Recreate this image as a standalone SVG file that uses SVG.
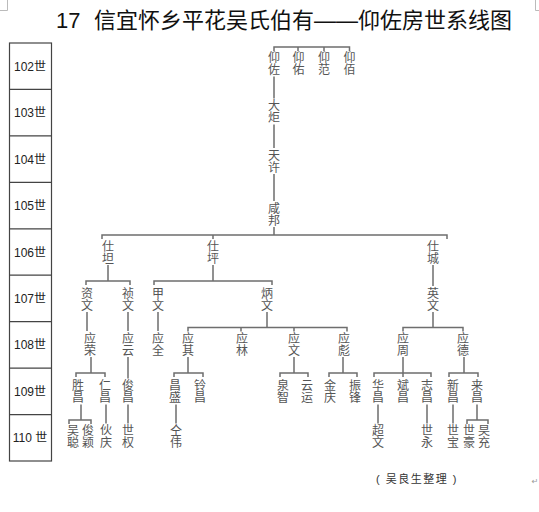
<svg xmlns="http://www.w3.org/2000/svg" width="539" height="512" viewBox="0 0 539 512">
<style>
.t{font-family:"Liberation Sans","Noto Sans CJK SC",sans-serif;font-size:22px;fill:#111}
.g{font-family:"Liberation Sans","Noto Sans CJK SC",sans-serif;font-size:12px;fill:#222;text-anchor:middle}
.n{font-family:"Noto Sans CJK SC",sans-serif;font-size:12px;fill:#555;text-anchor:middle;writing-mode:vertical-rl}
.c path{fill:none;stroke:#6e6e6e;stroke-width:1.5}
.box{fill:none;stroke:#444;stroke-width:1.2}
.mk{fill:none;stroke:#bbb;stroke-width:1}
</style>
<path class="mk" d="M0 10.5H7.5V0M535.5 0V10.5H539"/>
<text class="t" x="56" y="28" font-size="21">17</text>
<text class="t" x="94" y="28">信宜怀乡平花吴氏伯有——仰佐房世系线图</text>

<g id="gen-column">
<rect class="box" x="9.5" y="43" width="42" height="418"/>
<path class="box" d="M9.5 89.4H51.5M9.5 135.9H51.5M9.5 182.3H51.5M9.5 228.8H51.5M9.5 275.2H51.5M9.5 321.7H51.5M9.5 368.1H51.5M9.5 414.6H51.5"/>
<text class="g" x="30" y="70.7">102世</text>
<text class="g" x="30" y="117.1">103世</text>
<text class="g" x="30" y="163.6">104世</text>
<text class="g" x="30" y="210">105世</text>
<text class="g" x="30" y="256.5">106世</text>
<text class="g" x="30" y="302.9">107世</text>
<text class="g" x="30" y="349.4">108世</text>
<text class="g" x="30" y="395.8">109世</text>
<text class="g" x="30" y="442.3">110 世</text>
</g>

<g class="c" id="connectors">
<path d="M274 51V47H349.5V51M298 47V51M324 47V51"/>
<path d="M274 76.5V98.5M274 124.5V148M274 174V201M274 227V235"/>
<path d="M102 239V235H447V239M213 235V239"/>
<path d="M108 265V281M86 285V281H130V285"/>
<path d="M213 265V281M154 285V281H272V285"/>
<path d="M433 265V286"/>
<path d="M87 312V331M128 312V331M158 312V331"/>
<path d="M267 312V327.5M188 331.5V327.5H347V331.5M241 327.5V331.5M294 327.5V331.5"/>
<path d="M433 312V327.5M403 331.5V327.5H463V331.5"/>
<path d="M91 357V373M76 377V373H105V377"/>
<path d="M128 357V378.5"/>
<path d="M188 357V373M174 377V373H203V377"/>
<path d="M294 357V373M280 377V373H308V377"/>
<path d="M343 357V373M329 377V373H357V377"/>
<path d="M403 357V377M374 377V373H431V377"/>
<path d="M464 357V373M449 377V373H478V377"/>
<path d="M81 404.5V420M69 424V420H91V424"/>
<path d="M106 404.5V423.5M128 404.5V423.5M176 404.5V423.5M378 404.5V423.5M427 404.5V423.5M453 404.5V423.5"/>
<path d="M477 404.5V420M467 424V420H488V424"/>
</g>

<g id="n102a"><text class="n" x="274" y="63.5">仰佐</text></g>
<g id="n102b"><text class="n" x="298.5" y="63.5">仰佑</text></g>
<g id="n102c"><text class="n" x="324" y="63.5">仰范</text></g>
<g id="n102d"><text class="n" x="349.5" y="63.5">仰佰</text></g>
<g id="n103"><text class="n" x="274" y="111.5">大炬</text></g>
<g id="n104"><text class="n" x="274" y="161">天许</text></g>
<g id="n105"><text class="n" x="274" y="214">咸邦</text></g>

<g id="n106a"><text class="n" x="108" y="252">仕坦</text></g>
<g id="n106b"><text class="n" x="213" y="252">仕坪</text></g>
<g id="n106c"><text class="n" x="433" y="252">仕城</text></g>

<g id="n107a"><text class="n" x="87" y="299">资文</text></g>
<g id="n107b"><text class="n" x="128" y="299">祯文</text></g>
<g id="n107c"><text class="n" x="158" y="299">甲文</text></g>
<g id="n107d"><text class="n" x="267" y="299">炳文</text></g>
<g id="n107e"><text class="n" x="433" y="299">英文</text></g>

<g id="n108a"><text class="n" x="90" y="344">应荣</text></g>
<g id="n108b"><text class="n" x="128" y="344">应云</text></g>
<g id="n108c"><text class="n" x="158" y="344">应全</text></g>
<g id="n108d"><text class="n" x="188" y="344">应其</text></g>
<g id="n108e"><text class="n" x="242" y="344">应林</text></g>
<g id="n108f"><text class="n" x="294" y="344">应文</text></g>
<g id="n108g"><text class="n" x="344" y="344">应彪</text></g>
<g id="n108h"><text class="n" x="403" y="344">应周</text></g>
<g id="n108i"><text class="n" x="463" y="344">应德</text></g>

<g id="n109a"><text class="n" x="78" y="391.5">胜昌</text></g>
<g id="n109b"><text class="n" x="105" y="391.5">仁昌</text></g>
<g id="n109c"><text class="n" x="128" y="391.5">俊昌</text></g>
<g id="n109d"><text class="n" x="175" y="391.5">昌盛</text></g>
<g id="n109e"><text class="n" x="200" y="391.5">铃昌</text></g>
<g id="n109f"><text class="n" x="283" y="391.5">泉智</text></g>
<g id="n109g"><text class="n" x="307" y="391.5">云运</text></g>
<g id="n109h"><text class="n" x="330" y="391.5">金庆</text></g>
<g id="n109i"><text class="n" x="355" y="391.5">振锋</text></g>
<g id="n109j"><text class="n" x="378" y="391.5">华昌</text></g>
<g id="n109k"><text class="n" x="403" y="391.5">斌昌</text></g>
<g id="n109l"><text class="n" x="427" y="391.5">志昌</text></g>
<g id="n109m"><text class="n" x="453" y="391.5">新昌</text></g>
<g id="n109n"><text class="n" x="477" y="391.5">来昌</text></g>

<g id="n110a"><text class="n" x="73" y="436.5">吴聪</text></g>
<g id="n110b"><text class="n" x="88" y="436.5">俊颖</text></g>
<g id="n110c"><text class="n" x="106" y="436.5">伙庆</text></g>
<g id="n110d"><text class="n" x="128" y="436.5">世权</text></g>
<g id="n110e"><text class="n" x="176" y="436.5">仝伟</text></g>
<g id="n110f"><text class="n" x="378" y="436.5">超文</text></g>
<g id="n110g"><text class="n" x="427" y="436.5">世永</text></g>
<g id="n110h"><text class="n" x="453" y="436.5">世宝</text></g>
<g id="n110i"><text class="n" x="469" y="436.5">世豪</text></g>
<g id="n110j"><text class="n" x="484" y="436.5">旲充</text></g>

<text x="417" y="483" font-family="Liberation Sans,'Noto Sans CJK SC',sans-serif" font-size="11" letter-spacing="1.5" fill="#333" text-anchor="middle">( 吴良生整理 )</text>
<text x="535" y="484" font-family="DejaVu Sans,sans-serif" font-size="8" fill="#999" text-anchor="middle">↵</text>
</svg>
